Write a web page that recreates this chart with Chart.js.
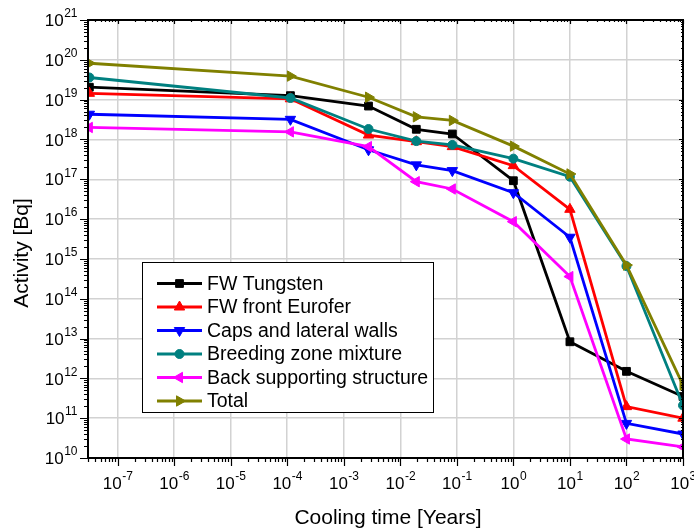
<!DOCTYPE html>
<html>
<head>
<meta charset="utf-8">
<script src="https://cdn.jsdelivr.net/npm/chart.js@4/dist/chart.umd.min.js"></script>
<style>
  html, body { margin: 0; padding: 0; background: #fff; }
  #wrap { width: 694px; height: 530px; }
</style>
</head>
<body>
<div id="wrap"><canvas id="chart" width="694" height="530"></canvas></div>
<script>
// cooling times: 1 s, 1 h, 1 d, 1 w, 1 month, 1, 10, 100, 1000 years
const coolingTime = [3.17e-8, 1.14e-4, 2.74e-3, 1.92e-2, 8.33e-2, 1, 10, 100, 1000];

const fwTungsten = [2.05e19, 1.26e19, 6.9e18, 1.8e18, 1.37e18, 9.2e16, 8.3e12, 1.5e12, 3.5e11];
const fwEurofer  = [1.44e19, 1.05e19, 1.29e18, 8.8e17, 6.6e17, 2.2e17, 1.76e16, 1.95e11, 1.0e11];
const capsWalls  = [4.3e18, 3.2e18, 5.5e17, 2.3e17, 1.65e17, 4.6e16, 3.5e15, 7.4e10, 4.0e10];
const breeding   = [3.6e19, 1.1e19, 1.83e18, 9.1e17, 7.3e17, 3.3e17, 1.16e17, 6.6e14, 2.1e11];
const backSupport = [2.0e18, 1.55e18, 6.6e17, 8.7e16, 5.7e16, 8.6e15, 3.6e14, 3.0e10, 1.9e10];
const total      = [8.2e19, 3.9e19, 1.15e19, 3.7e18, 3.0e18, 6.8e17, 1.36e17, 7.0e14, 6.8e11];

const seriesNames = ['FW Tungsten', 'FW front Eurofer', 'Caps and lateral walls',
  'Breeding zone mixture', 'Back supporting structure', 'Total'];

const xTickExps = [-7, -6, -5, -4, -3, -2, -1, 0, 1, 2, 3];
const yTickExps = [10, 11, 12, 13, 14, 15, 16, 17, 18, 19, 20, 21];

const FONT = '"Liberation Sans", Arial, Helvetica, sans-serif';

function series(label, data, color, style, rot, radius, order) {
  return {
    label,
    data: coolingTime.map((t, i) => ({ x: t, y: data[i] })),
    borderColor: color,
    backgroundColor: color,
    borderWidth: 2.8,
    pointStyle: style,
    pointRotation: rot,
    pointRadius: radius,
    pointHoverRadius: radius,
    pointBackgroundColor: color,
    pointBorderColor: color,
    pointBorderWidth: 1,
    tension: 0,
    order
  };
}

const datasets = [
  series(seriesNames[0], fwTungsten, '#000000', 'rect', 0, 5.5, 6),
  series(seriesNames[1], fwEurofer, '#ff0000', 'triangle', 0, 6, 5),
  series(seriesNames[2], capsWalls, '#0000ff', 'triangle', 180, 6, 4),
  series(seriesNames[3], breeding, '#008080', 'circle', 0, 4.5, 3),
  series(seriesNames[4], backSupport, '#ff00ff', 'triangle', 270, 6, 2),
  series(seriesNames[5], total, '#808000', 'triangle', 90, 6, 1)
];

// power-of-ten label: "10" plus a raised exponent
function powLabel(ctx, x, y, exp, mode) {
  const base = '10', sup = String(exp);
  ctx.font = '17px ' + FONT;
  const wb = ctx.measureText(base).width;
  ctx.font = '12px ' + FONT;
  const ws = ctx.measureText(sup).width;
  let x0;
  if (mode === 'center') x0 = x - (wb + ws) / 2;
  else x0 = x - wb - ws;
  ctx.textAlign = 'left';
  ctx.textBaseline = 'middle';
  ctx.font = '17px ' + FONT;
  ctx.fillText(base, x0, y + 1.5);
  ctx.font = '12px ' + FONT;
  ctx.fillText(sup, x0 + wb + 0.5, y - 6);
}

const framePlugin = {
  id: 'frame',
  afterDraw(chart) {
    const { ctx, chartArea: a, scales } = chart;
    const xs = scales.x, ys = scales.y;
    ctx.save();
    ctx.strokeStyle = '#000';
    ctx.fillStyle = '#000';

    // ticks
    ctx.lineWidth = 1.2;
    ctx.beginPath();
    for (let d = -8; d <= 3; d++) {
      for (let k = 1; k <= 9; k++) {
        const v = k * Math.pow(10, d);
        if (v < xs.min * 0.999 || v > xs.max * 1.001) continue;
        const px = Math.round(xs.getPixelForValue(v)) + 0.5;
        const big = k === 1;
        ctx.moveTo(px, a.bottom); ctx.lineTo(px, a.bottom + (big ? 8 : 4));
        ctx.moveTo(px, a.top); ctx.lineTo(px, a.top + (big ? 4 : 2));
      }
    }
    for (let d = 10; d <= 21; d++) {
      for (let k = 1; k <= 9; k++) {
        const v = k * Math.pow(10, d);
        if (v > ys.max * 1.001) continue;
        const py = Math.round(ys.getPixelForValue(v)) + 0.5;
        const big = k === 1;
        ctx.moveTo(a.left, py); ctx.lineTo(a.left - (big ? 8 : 4), py);
        ctx.moveTo(a.right, py); ctx.lineTo(a.right - (big ? 4 : 2), py);
      }
    }
    ctx.stroke();

    // frame
    ctx.lineWidth = 2;
    ctx.strokeRect(a.left, a.top, a.right - a.left, a.bottom - a.top);

    // tick labels
    xTickExps.forEach(e => powLabel(ctx, xs.getPixelForValue(Math.pow(10, e)), a.bottom + 25, e, 'center'));
    yTickExps.forEach(e => powLabel(ctx, a.left - 11, ys.getPixelForValue(Math.pow(10, e)), e, 'right'));

    // axis titles
    ctx.font = '21px ' + FONT;
    ctx.textAlign = 'center';
    ctx.textBaseline = 'middle';
    ctx.fillText('Cooling time [Years]', 388, 518);
    ctx.save();
    ctx.translate(22, 253);
    ctx.rotate(-Math.PI / 2);
    ctx.fillText('Activity [Bq]', 0, 0);
    ctx.restore();

    // legend
    const lx = 142, ly = 262, lw = 291, lh = 150;
    ctx.fillStyle = '#fff';
    ctx.fillRect(lx, ly, lw, lh);
    ctx.lineWidth = 1;
    ctx.strokeStyle = '#000';
    ctx.strokeRect(lx + 0.5, ly + 0.5, lw, lh);
    ctx.font = '19.5px ' + FONT;
    ctx.textAlign = 'left';
    ctx.textBaseline = 'middle';
    datasets.forEach((ds, i) => {
      const cy = 283.5 + i * 23.5;
      ctx.strokeStyle = ds.borderColor;
      ctx.lineWidth = 2.8;
      ctx.beginPath();
      ctx.moveTo(157, cy); ctx.lineTo(202, cy);
      ctx.stroke();
      ctx.fillStyle = ds.borderColor;
      ctx.lineWidth = 1;
      Chart.helpers.drawPoint(ctx, {
        pointStyle: ds.pointStyle, rotation: ds.pointRotation,
        radius: ds.pointRadius, borderWidth: 1
      }, 179.5, cy);
      ctx.fillStyle = '#000';
      ctx.fillText(ds.label, 207, cy + 1);
    });
    ctx.restore();
  }
};

new Chart(document.getElementById('chart'), {
  type: 'line',
  data: { datasets },
  options: {
    responsive: false,
    animation: false,
    layout: { padding: { top: 20, right: 11, left: 0, bottom: 0 } },
    plugins: { legend: { display: false }, tooltip: { enabled: false } },
    scales: {
      x: {
        type: 'logarithmic',
        min: 3.17e-8,
        max: 1000,
        afterBuildTicks: s => { s.ticks = xTickExps.map(e => ({ value: Math.pow(10, e) })); },
        afterFit: s => { s.height = 72; },
        ticks: { display: false },
        grid: { color: '#d2d2d2', lineWidth: 1.5, drawTicks: false },
        border: { display: false }
      },
      y: {
        type: 'logarithmic',
        min: 1e10,
        max: 1e21,
        afterBuildTicks: s => { s.ticks = yTickExps.map(e => ({ value: Math.pow(10, e) })); },
        afterFit: s => { s.width = 88; },
        ticks: { display: false },
        grid: { color: '#d2d2d2', lineWidth: 1.5, drawTicks: false },
        border: { display: false }
      }
    }
  },
  plugins: [framePlugin]
});
</script>
</body>
</html>
